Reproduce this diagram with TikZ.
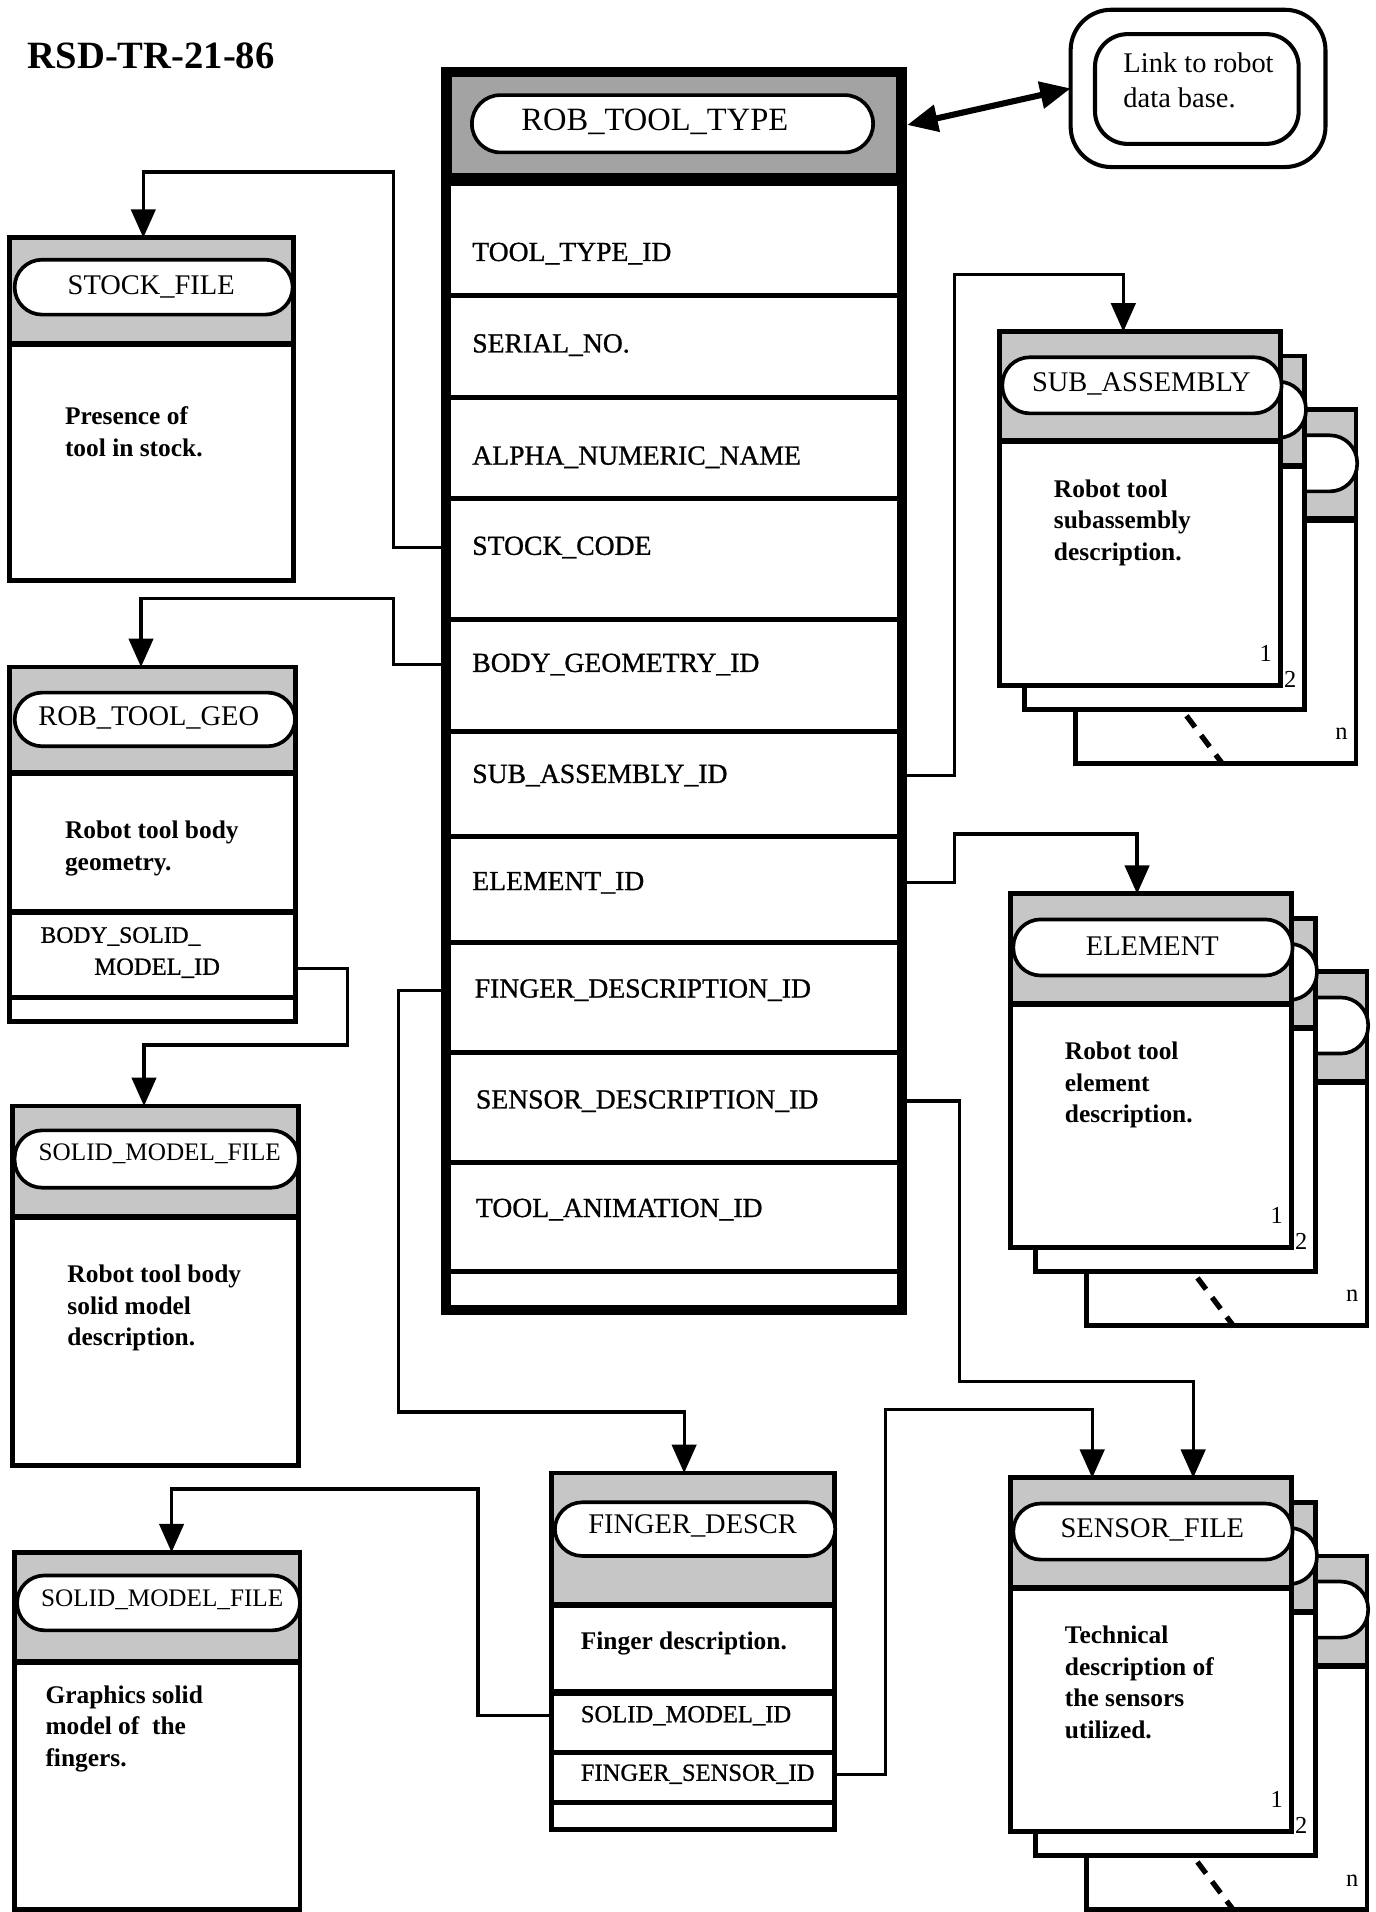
\documentclass[tikz,border=0pt]{standalone}
\usepackage{fontspec}
\setmainfont{Liberation Serif}
\newfontfamily\fldfam{Liberation Serif}[FakeBold=0.9]
\usetikzlibrary{arrows.meta,shapes.misc,fit,calc}
\newcommand{\onebox}[6]{%
  \filldraw[fill=white,line width=2.4pt] (#2,#3) rectangle (#4,#5);
  \fill[hdr] ({#2+2},{#3+2}) rectangle ({#4-2},#6);
  \draw[line width=2.4pt] (#2,#3) rectangle (#4,#5);
  \draw[line width=3pt] (#2,#6) -- (#4,#6);
  \node[fit={(#2,#3) (#4,#5)},fit0] (#1) {};
}
\newcommand{\pillpath}[4]{%
  \filldraw[fill=white,line width=1.8pt,rounded corners=13.5pt] (#1,#2) rectangle (#3,#4);
}
\newcommand{\stklayer}[2]{%
  \filldraw[fill=white,line width=2.4pt] (#1,#2) rectangle ({#1+230},{#2+290});
  \fill[hdr] ({#1+2},{#2+2}) rectangle ({#1+228},{#2+90});
  \draw[line width=2.4pt] (#1,#2) rectangle ({#1+230},{#2+290});
  \draw[line width=3pt] (#1,{#2+90}) -- ({#1+230},{#2+90});
  \pillpath{#1+2}{#2+21}{#1+231}{#2+67}
}
\newcommand{\stackbox}[5]{%
  \stklayer{#2+62}{#3+64}
  \stklayer{#2+20}{#3+20}
  \stklayer{#2}{#3}
  \node[ttl] (#1t) at ({#2+116},{#3+43}) {#4};
  \node[fit={(#2,#3) ({#2+230},{#3+290})},fit0] (#1) {};
  \node[dsc] (#1d) at ({#2+44},{#3+121}) {#5};
  \node[num] (#1a) at ({#2+218},{#3+264}) {1};
  \node[num] (#1b) at ({#2+238},{#3+285}) {2};
  \node[num] (#1c) at ({#2+280},{#3+330}) {n};
  \draw[line width=2.6pt,dash pattern=on 7pt off 5pt] ({#2+153},{#3+315}) -- ({#2+183},{#3+355});
}
\begin{document}
\begin{tikzpicture}[x=0.6pt,y=-0.6pt,
  hdr/.style={fill=gray!45},
  fit0/.style={inner sep=0pt,outer sep=0pt},
  conn/.style={line width=1.6pt},
  arr/.style={conn,-{Triangle[width=12pt,length=14pt]}},
  ttl/.style={font=\fontsize{14}{16}\selectfont,inner sep=0pt},
  fld/.style={font=\fldfam\fontsize{13.6}{16}\selectfont,anchor=west,inner sep=0pt},
  sfld/.style={font=\fldfam\fontsize{12.1}{14}\selectfont,anchor=west,inner sep=0pt},
  dsc/.style={font=\bfseries\fontsize{12.5}{15.6}\selectfont,align=left,anchor=north west,inner sep=0pt},
  num/.style={font=\fontsize{12}{14}\selectfont,inner sep=0pt},
]
\fill[white] (0,0) rectangle (1128,1568);
\useasboundingbox (0,0) rectangle (1128,1568);

% document number
\node[font=\bfseries\fontsize{19}{22}\selectfont] (doc) at (124,46) {RSD-TR-21-86};

% ---------------- main box ----------------
\fill[white] (362,55) rectangle (744,1078);
\fill[black] (362,55) rectangle (744,150);
\fill[gray!72] (371,63) rectangle (735,142);
\draw[line width=4.8pt] (366,59) rectangle (740,1074);
\foreach \yy in {242,326,409,508,600,686,773,863,953,1043}
  \draw[line width=2.4pt] (366,\yy) -- (740,\yy);
\draw[line width=3pt] (366,150) -- (740,150);
\filldraw[fill=white,line width=1.8pt,rounded corners=14pt] (387,78) rectangle (716,125);
\node[font=\fontsize{16}{18}\selectfont,inner sep=0pt] (mtitle) at (537,100) {ROB\_TOOL\_TYPE};
\node[fit={(362,55) (744,1078)},fit0] (main) {};
\node[fit={(362,55) (744,150)},fit0] (mhdr) {};
\node[fld] (tTool)   at (387,208) {TOOL\_TYPE\_ID};
\node[fld] (tSerial) at (387,283) {SERIAL\_NO.};
\node[fld] (tAlpha)  at (387,375) {ALPHA\_NUMERIC\_NAME};
\node[fld] (tStock)  at (387,449) {STOCK\_CODE};
\node[fld] (tBody)   at (387,545) {BODY\_GEOMETRY\_ID};
\node[fld] (tSub)    at (387,636) {SUB\_ASSEMBLY\_ID};
\node[fld] (tElem)   at (387,724) {ELEMENT\_ID};
\node[fld] (tFinger) at (389,812) {FINGER\_DESCRIPTION\_ID};
\node[fld] (tSensor) at (390,903) {SENSOR\_DESCRIPTION\_ID};
\node[fld] (tAnim)   at (390,992) {TOOL\_ANIMATION\_ID};

% ---------------- link box ----------------
\draw[line width=2pt,rounded corners=20pt] (878,8) rectangle (1087,137);
\draw[line width=2pt,rounded corners=16pt] (898,28) rectangle (1065,118);
\node[fit={(878,8) (1087,137)},fit0] (link) {};
\node[font=\fontsize{14}{17}\selectfont,align=left,anchor=west,inner sep=0pt] (linkt) at (921,66) {Link to robot\\data base.};
\draw[line width=3pt,{Triangle[width=13pt,length=15pt]}-{Triangle[width=13pt,length=15pt]}] (mhdr.east) -- (link.west);

% ---------------- STOCK_FILE ----------------
\onebox{stock}{8}{195}{241}{476}{282}
\pillpath{12}{213}{240}{258}
\node[ttl] (stockt) at (124,235) {STOCK\_FILE};
\node[dsc] (stockd) at (53,333) {Presence of\\tool in stock.};

% ---------------- ROB_TOOL_GEO ----------------
\onebox{geo}{8}{547}{242}{838}{634}
\pillpath{12}{568}{242}{612}
\node[ttl] (geot) at (122,589) {ROB\_TOOL\_GEO};
\node[dsc] (geod) at (53,673) {Robot tool body\\geometry.};
\draw[line width=3pt] (8,748) -- (242,748);
\draw[line width=2.4pt] (8,818) -- (242,818);
\node[sfld,font=\fldfam\fontsize{11.6}{14}\selectfont] (tBS)  at (33,768) {BODY\_SOLID\_};
\node[sfld] (tBSM) at (77,794) {MODEL\_ID};

% ---------------- SOLID_MODEL_FILE 1 ----------------
\onebox{smfa}{10}{907}{245}{1202}{998}
\pillpath{12}{927}{245}{974}
\node[ttl,font=\fontsize{12.4}{15}\selectfont] (smfat) at (131,946) {SOLID\_MODEL\_FILE};
\node[dsc] (smfad) at (55,1037) {Robot tool body\\solid model\\description.};

% ---------------- SOLID_MODEL_FILE 2 ----------------
\onebox{smfb}{12}{1273}{246}{1566}{1363}
\pillpath{14}{1292}{246}{1337}
\node[ttl,font=\fontsize{12.4}{15}\selectfont] (smfbt) at (133,1312) {SOLID\_MODEL\_FILE};
\node[dsc] (smfbd) at (37,1382) {Graphics solid\\model of~~the\\fingers.};

% ---------------- FINGER_DESCR ----------------
\onebox{fing}{452}{1208}{684}{1500}{1316}
\pillpath{455}{1232}{685}{1276}
\node[ttl] (fingt) at (568,1251) {FINGER\_DESCR};
\node[dsc] (fingd) at (476,1338) {Finger description.};
\draw[line width=3pt] (452,1388) -- (684,1388);
\draw[line width=2.4pt] (452,1437) -- (684,1437);
\draw[line width=2.4pt] (452,1478) -- (684,1478);
\node[sfld] (tFS)   at (476,1407) {SOLID\_MODEL\_ID};
\node[sfld] (tFSen) at (476,1455) {FINGER\_SENSOR\_ID};

% ---------------- stacks ----------------
\stackbox{sub}{820}{272}{SUB\_ASSEMBLY}{Robot tool\\subassembly\\description.}
\stackbox{elem}{829}{733}{ELEMENT}{Robot tool\\element\\description.}
\stackbox{sens}{829}{1212}{SENSOR\_FILE}{Technical\\description of\\the sensors\\utilized.}

% ---------------- connectors ----------------
\draw[arr] (main.west |- tStock) -| (323,141) -| ($(stock.north west)!0.47!(stock.north east)$);
\draw[arr] (main.west |- tBody) -| (323,491) -| ($(geo.north west)!0.46!(geo.north east)$);
\draw[arr] (geo.east |- tBSM) -| (285,857) -| ($(smfa.north west)!0.46!(smfa.north east)$);
\draw[arr] (fing.west |- tFS) -| (392,1221) -| ($(smfb.north west)!0.55!(smfb.north east)$);
\draw[arr] (main.west |- tFinger) -| (327,1158) -| ($(fing.north west)!0.47!(fing.north east)$);
\draw[arr] (fing.east |- tFSen) -| (726,1156) -| ($(sens.north west)!0.29!(sens.north east)$);
\draw[arr] (main.east |- tSensor) -| (787,1133) -| ($(sens.north west)!0.65!(sens.north east)$);
\draw[arr] (main.east |- tElem) -| (783,684) -| ($(elem.north west)!0.45!(elem.north east)$);
\draw[arr] (main.east |- tSub) -| (783,225) -| ($(sub.north west)!0.44!(sub.north east)$);
\end{tikzpicture}
\end{document}
